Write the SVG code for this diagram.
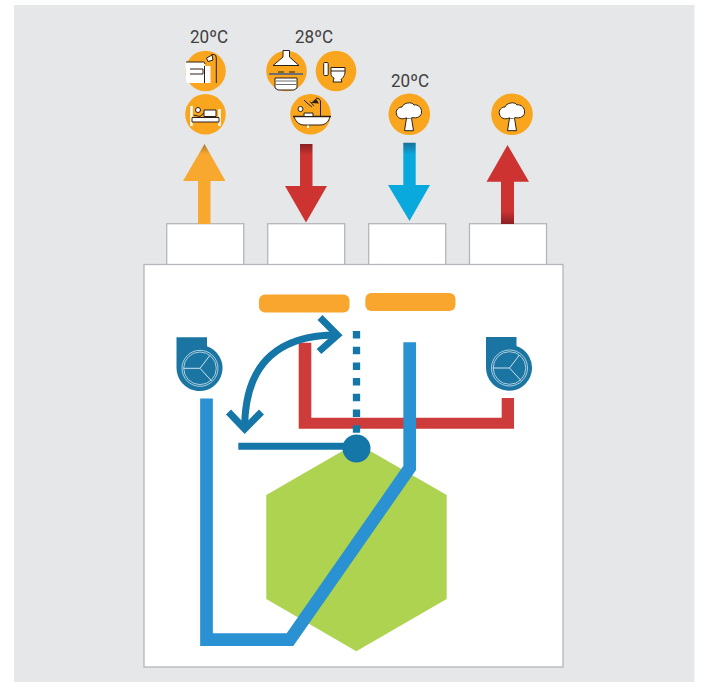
<svg xmlns="http://www.w3.org/2000/svg" width="701" height="682" viewBox="0 0 701 682">
<defs>
<style>
.ic{fill:#f9a61e}
.ln{fill:#fff;stroke:#2b2118;stroke-width:1}
.lk{fill:none;stroke:#2b2118;stroke-width:1}
.t{font-family:Roboto,"Liberation Sans",sans-serif;font-size:18px;fill:#404041;text-anchor:middle}
.box{fill:#fff;stroke:#b3b6ba;stroke-width:1.3}
.b{fill:#1b75a3}
</style>
<linearGradient id="gO" x1="0" y1="0" x2="0" y2="1"><stop offset="0" stop-color="#a8792e"/><stop offset=".13" stop-color="#f9a82f"/></linearGradient>
<linearGradient id="gR1" x1="0" y1="0" x2="0" y2="1"><stop offset="0" stop-color="#8a1f22"/><stop offset=".14" stop-color="#cc3331"/></linearGradient>
<linearGradient id="gR2" x1="0" y1="0" x2="0" y2="1"><stop offset="0" stop-color="#cc3331"/><stop offset=".84" stop-color="#cc3331"/><stop offset="1" stop-color="#8a1f22"/></linearGradient>
<linearGradient id="gB" x1="0" y1="0" x2="0" y2="1"><stop offset="0" stop-color="#17719b"/><stop offset=".15" stop-color="#0aa9dd"/></linearGradient>
<g id="tree">
<path class="ln" d="M-2.500 3 L-4.500 15.700 H4.500 L2.500 3 Z"/>
<path class="ln" d="M-3 3 C-7 5 -12 3 -12.500 -1 C-14 -5 -10 -8 -7 -8 C-6 -12 3 -14 5 -10 C9 -11 13 -7 12.500 -3 C13 1 8 4 3 2.500 L0 3 Z"/>
<path d="M-2 2.500 H2.500" stroke="#fff" stroke-width="1.500" fill="none"/>
</g>
<g id="fan">
<path class="b" d="M-23.500 -31 H7 V-22 A23 23 0 1 1 -23.500 0 Z"/>
<circle r="18" fill="none" stroke="#cfe3ee" stroke-width=".8"/>
<circle r="16.300" fill="none" stroke="#cfe3ee" stroke-width=".8"/>
<path d="M-16.500 0 H0 L10 -13 M0 0 L11.500 12.500" fill="none" stroke="#cfe3ee" stroke-width="1"/>
</g>
</defs>
<rect width="701" height="682" fill="#fff"/>
<rect id="panel" x="14" y="5" width="680.500" height="677" fill="#e6e7e8"/>
<g id="unit">
<rect class="box" x="166.700" y="223.700" width="77" height="41"/>
<rect class="box" x="267.700" y="223.700" width="77" height="41"/>
<rect class="box" x="368.700" y="223.700" width="77" height="41"/>
<rect class="box" x="469.500" y="223.700" width="77" height="41"/>
<rect x="144" y="264.500" width="419" height="402.500" fill="#fff" stroke="#b3b6ba" stroke-width="1.300"/>
</g>
<polygon id="hexagon" points="356.300,443 446.700,495 446.700,599 356.300,651.300 266.300,599 266.300,495" fill="#add350"/>
<g id="bars">
<rect x="259" y="294.500" width="90.500" height="18" rx="6" fill="#f9a62f"/>
<rect x="365.300" y="293" width="90.200" height="18" rx="6" fill="#f9a62f"/>
</g>
<g id="fan-left"><use href="#fan" x="200" y="368.300"/></g>
<g id="fan-right"><use href="#fan" x="509.500" y="368"/></g>
<g id="connectors">
<path d="M298.700 342.700 H311.300 V417.700 H501.700 V398 H514 V428.700 H298.700 Z" fill="#cd3b3b"/>
<path d="M206.500 398.500 V639.700 H290 L409.700 468 V342.300" fill="none" stroke="#2a91d2" stroke-width="12.700" stroke-miterlimit="10"/>
<path d="M356.500 331 V433" fill="none" stroke="#1577a8" stroke-width="7.300" stroke-dasharray="7.500 8.200"/>
<path d="M238.300 446.200 H352" fill="none" stroke="#1577a8" stroke-width="7"/>
<circle cx="356.500" cy="448.500" r="14" fill="#1577a8"/>
<path d="M337 335 C282 335 245 360 244.700 427" fill="none" stroke="#1577a8" stroke-width="7"/>
<path d="M320 317.500 L337.500 335 L319 351.500 M228.500 412 L244.700 429 L261.500 412" fill="none" stroke="#1577a8" stroke-width="7"/>
<polygon points="198,224 198,181 183,181 204.500,144 225.500,181 210.500,181 210.500,224" fill="url(#gO)"/>
<polygon points="300,144 312.500,144 312.500,186 327,186 306,222.500 285,186 300,186" fill="url(#gR1)"/>
<polygon points="403.300,142.700 415.700,142.700 415.700,185 430,185 409.500,221 388,185 403.300,185" fill="url(#gB)"/>
<polygon points="507.500,145 529,181.700 514,181.700 514,224 501,224 501,181.700 486.500,181.700" fill="url(#gR2)"/>
</g>
<g id="label-20-a"><text class="t" x="209" y="43" textLength="38" lengthAdjust="spacingAndGlyphs">20ºC</text></g>
<g id="label-28"><text class="t" x="314" y="43" textLength="38" lengthAdjust="spacingAndGlyphs">28ºC</text></g>
<g id="label-20-b"><text class="t" x="410" y="87" textLength="38" lengthAdjust="spacingAndGlyphs">20ºC</text></g>
<g id="icon-living">
<circle class="ic" cx="205.500" cy="71" r="20.300"/>
<path fill="#fff" d="M185.500 62 H203 Q205 62 205 64 V66 H210.500 V83 H187 Q185 78 185.500 62 Z"/>
<path class="lk" d="M190 69 H203 V74 H190 M204.500 66 V83 M186 62 H203.500 Q205 62 205 64"/>
<path class="lk" d="M216.300 83 V58 Q216 53 211 55" stroke-width="1.200"/>
<path class="ln" d="M206.500 58 L212 55 L213 60 L208 61.500 Z" stroke-width=".5"/>
</g>
<g id="icon-hood">
<circle class="ic" cx="286.500" cy="71" r="20.300"/>
<path class="ln" d="M283 50.500 H289.500 V57 L299 65.500 H273 L283 57 Z" stroke-width=".7"/>
<rect x="269" y="73" width="34" height="2" fill="#6d6e71"/>
<path class="ln" d="M275 78 H297 V88 L294 90 H278 L275 88 Z" stroke="#6d6e71"/>
<path class="lk" d="M278 72 H284 M289 72 H295" stroke-width="1.500"/>
<path d="M276 81 H296 M276 84.500 H296" stroke="#6d6e71" stroke-width="1" fill="none"/>
</g>
<g id="icon-toilet">
<circle class="ic" cx="336" cy="71" r="20.300"/>
<rect class="ln" x="323.700" y="62.500" width="4.500" height="13" rx="1"/>
<path class="ln" d="M331 67.500 H345 V73 C344 77 342 79 341 79 L342 82 H333 L334 78 C331 77 331 74 331 72 Z"/>
<path class="lk" d="M331 71 H345" stroke-width="1.500"/>
</g>
<g id="icon-bed">
<circle class="ic" cx="205.500" cy="114.300" r="20.300"/>
<path d="M191.500 106 V126 M219.500 109 V126" fill="none" stroke="#fff" stroke-width="2.500"/>
<path class="ln" d="M192 122 H219 V117.500 H192 Z" stroke-width=".7"/>
<path class="ln" d="M204 110 H216 V116.500 H204 Z" stroke-width=".7"/>
<circle class="ln" cx="198" cy="110" r="2.500" stroke-width=".7"/>
<path class="lk" d="M193.500 115 L200 116.500 L204 113"/>
</g>
<g id="icon-bath">
<circle class="ic" cx="310.500" cy="114.300" r="20.300"/>
<path class="ln" d="M294 116.500 H330 C329 121 326 125 320 125 H304 C298 125 295 120 294 116.500 Z" stroke-width=".8"/>
<path d="M293 116.500 H331" stroke="#2b2118" stroke-width="1.300" fill="none"/>
<path d="M308 125.500 V128" stroke="#fff" stroke-width="2" fill="none"/>
<path class="lk" d="M320.500 116 V101 Q320 98 316 98" stroke-width="1.200"/>
<path d="M311 103 L316 98.500 L319 103.500 Z" fill="#2b2118"/>
<path class="lk" d="M307 103 L312 107 M310 101.500 L314 106 M304 100 L308 104" stroke-width=".8"/>
<circle class="ln" cx="300.500" cy="109" r="2.500"/>
<path class="ln" d="M304 113 H313 V116.500 H304 Z" stroke-width=".7"/>
</g>
<g id="icon-tree-a"><circle class="ic" cx="409.300" cy="114.300" r="20.800"/><use href="#tree" x="409" y="115"/></g>
<g id="icon-tree-b"><circle class="ic" cx="512" cy="114.300" r="20.800"/><use href="#tree" x="512" y="115"/></g>
</svg>
